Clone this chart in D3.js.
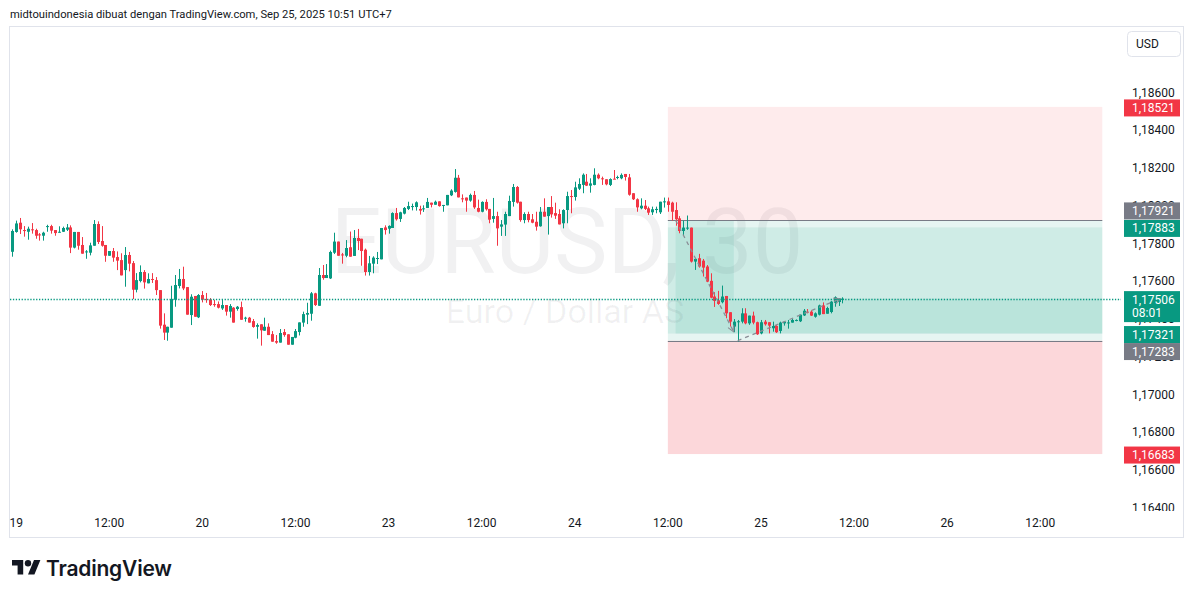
<!DOCTYPE html>
<html>
<head>
<meta charset="utf-8">
<script src="https://cdn.jsdelivr.net/npm/d3@7"></script>
<style>
  body { margin: 0; background: #fff; }
  svg { display: block; font-family: Roboto, "Noto Sans", sans-serif; }
</style>
</head>
<body>
<svg id="chart" width="1195" height="598"></svg>
<script>
// EURUSD 30m candles, first bar = Sep 18 23:30 (UTC+7), last bar = Sep 25 10:30

var opens = [
1.17754,1.17859,1.17908,1.17869,1.17860,1.17873,1.17869,1.17846,1.17839,1.17889,
1.17890,1.17869,1.17859,1.17860,1.17871,1.17883,1.17776,1.17859,1.17790,1.17753,
1.17749,1.17786,1.17901,1.17811,1.17790,1.17733,1.17758,1.17726,1.17710,1.17657,
1.17737,1.17694,1.17553,1.17599,1.17647,1.17587,1.17610,1.17604,1.17551,1.17368,
1.17326,1.17352,1.17500,1.17573,1.17610,1.17567,1.17419,1.17520,1.17407,1.17525,
1.17504,1.17502,1.17477,1.17477,1.17454,1.17472,1.17437,1.17458,1.17451,1.17461,
1.17400,1.17405,1.17387,1.17357,1.17370,1.17336,1.17357,1.17318,1.17281,1.17273,
1.17329,1.17317,1.17262,1.17299,1.17329,1.17379,1.17421,1.17426,1.17534,1.17468,
1.17631,1.17615,1.17613,1.17749,1.17808,1.17740,1.17733,1.17778,1.17732,1.17827,
1.17823,1.17765,1.17647,1.17691,1.17718,1.17714,1.17883,1.17876,1.17880,1.17959,
1.17928,1.17956,1.17981,1.17993,1.17991,1.17981,1.17981,1.17986,1.18014,1.18003,
1.18021,1.18000,1.18000,1.18053,1.18071,1.18146,1.18037,1.18041,1.18025,1.18055,
1.17986,1.17966,1.18018,1.17981,1.17928,1.17943,1.17887,1.17898,1.17943,1.18018,
1.18097,1.18019,1.17922,1.17954,1.17926,1.17913,1.17889,1.17966,1.17943,1.17991,
1.17959,1.17954,1.17905,1.17975,1.18049,1.18044,1.18088,1.18108,1.18125,1.18104,
1.18108,1.18162,1.18143,1.18138,1.18108,1.18141,1.18146,1.18143,1.18166,1.18148,
1.18064,1.18032,1.17984,1.17998,1.17984,1.17963,1.17975,1.17963,1.18018,1.18021,
1.18014,1.17975,1.17931,1.17864,1.17879,1.17882,1.17702,1.17720,1.17707,1.17676,
1.17600,1.17517,1.17497,1.17487,1.17520,1.17434,1.17358,1.17383,1.17384,1.17428,
1.17375,1.17416,1.17381,1.17322,1.17384,1.17381,1.17349,1.17361,1.17335,1.17375,
1.17377,1.17379,1.17389,1.17386,1.17417,1.17437,1.17437,1.17410,1.17421,1.17470,
1.17426,1.17435,1.17484,1.17488,1.17499
];
var highs = [
1.17873,1.17919,1.17933,1.17890,1.17887,1.17906,1.17876,1.17853,1.17860,1.17897,
1.17897,1.17869,1.17889,1.17887,1.17901,1.17894,1.17859,1.17859,1.17832,1.17763,
1.17802,1.17922,1.17915,1.17890,1.17790,1.17758,1.17774,1.17756,1.17746,1.17779,
1.17753,1.17705,1.17641,1.17682,1.17657,1.17640,1.17641,1.17620,1.17551,1.17428,
1.17357,1.17574,1.17631,1.17663,1.17675,1.17567,1.17529,1.17520,1.17530,1.17546,
1.17536,1.17509,1.17499,1.17491,1.17504,1.17472,1.17477,1.17461,1.17467,1.17490,
1.17410,1.17409,1.17398,1.17375,1.17370,1.17405,1.17375,1.17334,1.17313,1.17345,
1.17345,1.17317,1.17303,1.17345,1.17380,1.17437,1.17484,1.17541,1.17537,1.17668,
1.17684,1.17689,1.17760,1.17855,1.17808,1.17748,1.17816,1.17861,1.17869,1.17875,
1.17823,1.17771,1.17732,1.17730,1.17753,1.17880,1.17894,1.17894,1.17963,1.17986,
1.17966,1.17991,1.18019,1.18009,1.18021,1.17998,1.18000,1.18039,1.18014,1.18025,
1.18021,1.18002,1.18055,1.18085,1.18192,1.18161,1.18058,1.18041,1.18062,1.18076,
1.18030,1.18021,1.18032,1.17981,1.18039,1.17966,1.17922,1.17966,1.18051,1.18113,
1.18102,1.18019,1.17963,1.17966,1.17954,1.17966,1.17991,1.18037,1.17991,1.18049,
1.18014,1.17979,1.17979,1.18072,1.18081,1.18125,1.18143,1.18169,1.18166,1.18143,
1.18196,1.18169,1.18152,1.18138,1.18143,1.18187,1.18157,1.18169,1.18166,1.18166,
1.18064,1.18037,1.18037,1.18028,1.17993,1.17993,1.17993,1.18019,1.18041,1.18041,
1.18019,1.18016,1.17943,1.17919,1.17946,1.17882,1.17720,1.17743,1.17716,1.17684,
1.17640,1.17540,1.17547,1.17575,1.17520,1.17434,1.17398,1.17393,1.17455,1.17455,
1.17416,1.17437,1.17384,1.17393,1.17393,1.17381,1.17384,1.17367,1.17384,1.17386,
1.17393,1.17400,1.17396,1.17421,1.17451,1.17451,1.17444,1.17433,1.17474,1.17486,
1.17463,1.17493,1.17518,1.17507,1.17513
];
var lows = [
1.17728,1.17855,1.17848,1.17834,1.17818,1.17850,1.17823,1.17813,1.17813,1.17860,
1.17850,1.17839,1.17855,1.17859,1.17864,1.17747,1.17772,1.17765,1.17744,1.17717,
1.17735,1.17786,1.17795,1.17781,1.17701,1.17733,1.17701,1.17657,1.17629,1.17569,
1.17650,1.17504,1.17539,1.17592,1.17559,1.17587,1.17589,1.17525,1.17347,1.17287,
1.17283,1.17352,1.17463,1.17560,1.17551,1.17421,1.17366,1.17410,1.17403,1.17486,
1.17484,1.17467,1.17463,1.17454,1.17446,1.17416,1.17405,1.17379,1.17442,1.17394,
1.17384,1.17379,1.17352,1.17294,1.17257,1.17336,1.17313,1.17278,1.17267,1.17273,
1.17304,1.17262,1.17262,1.17296,1.17311,1.17357,1.17371,1.17389,1.17467,1.17468,
1.17606,1.17615,1.17610,1.17742,1.17733,1.17691,1.17725,1.17728,1.17732,1.17763,
1.17680,1.17628,1.17628,1.17640,1.17689,1.17714,1.17845,1.17850,1.17880,1.17919,
1.17912,1.17952,1.17975,1.17973,1.17972,1.17951,1.17965,1.17986,1.17989,1.18003,
1.17993,1.17966,1.18000,1.18049,1.18067,1.18042,1.18016,1.17966,1.18019,1.17981,
1.17963,1.17963,1.17972,1.17905,1.17908,1.17786,1.17838,1.17838,1.17943,1.17993,
1.18009,1.17913,1.17905,1.17910,1.17905,1.17866,1.17887,1.17940,1.17845,1.17935,
1.17928,1.17899,1.17878,1.17905,1.17958,1.18025,1.18081,1.18064,1.18102,1.18067,
1.18106,1.18138,1.18108,1.18106,1.18102,1.18138,1.18138,1.18138,1.18131,1.18051,
1.18028,1.17966,1.17979,1.17975,1.17949,1.17949,1.17958,1.17954,1.17988,1.17966,
1.17919,1.17892,1.17852,1.17843,1.17870,1.17697,1.17658,1.17670,1.17623,1.17593,
1.17508,1.17462,1.17473,1.17481,1.17402,1.17358,1.17328,1.17279,1.17375,1.17370,
1.17367,1.17370,1.17314,1.17317,1.17363,1.17322,1.17331,1.17324,1.17322,1.17363,
1.17347,1.17379,1.17386,1.17382,1.17414,1.17428,1.17414,1.17405,1.17417,1.17424,
1.17426,1.17428,1.17463,1.17467,1.17481
];
var closes = [
1.17864,1.17904,1.17873,1.17864,1.17876,1.17869,1.17839,1.17841,1.17855,1.17890,
1.17866,1.17853,1.17860,1.17880,1.17883,1.17776,1.17859,1.17786,1.17744,1.17756,
1.17788,1.17901,1.17806,1.17786,1.17733,1.17758,1.17723,1.17707,1.17629,1.17737,
1.17691,1.17553,1.17604,1.17647,1.17592,1.17610,1.17606,1.17551,1.17363,1.17326,
1.17357,1.17504,1.17578,1.17610,1.17560,1.17421,1.17516,1.17410,1.17525,1.17500,
1.17500,1.17472,1.17476,1.17458,1.17472,1.17437,1.17467,1.17379,1.17463,1.17394,
1.17405,1.17379,1.17356,1.17366,1.17338,1.17357,1.17313,1.17278,1.17273,1.17324,
1.17313,1.17262,1.17303,1.17334,1.17380,1.17424,1.17430,1.17534,1.17472,1.17631,
1.17615,1.17631,1.17753,1.17808,1.17733,1.17737,1.17774,1.17728,1.17827,1.17811,
1.17758,1.17647,1.17693,1.17723,1.17721,1.17880,1.17869,1.17891,1.17959,1.17926,
1.17963,1.17986,1.17996,1.17996,1.18016,1.17972,1.17984,1.18018,1.18003,1.18019,
1.17996,1.18002,1.18055,1.18078,1.18146,1.18042,1.18033,1.18025,1.18055,1.17989,
1.17966,1.18018,1.17979,1.17924,1.17943,1.17878,1.17899,1.17954,1.18023,1.18097,
1.18014,1.17922,1.17954,1.17922,1.17908,1.17887,1.17966,1.17940,1.17991,1.17952,
1.17945,1.17899,1.17975,1.18049,1.18046,1.18095,1.18113,1.18162,1.18104,1.18116,
1.18162,1.18143,1.18139,1.18111,1.18139,1.18138,1.18150,1.18161,1.18150,1.18056,
1.18032,1.17989,1.17998,1.17981,1.17961,1.17979,1.17981,1.18019,1.18021,1.18002,
1.17966,1.17926,1.17864,1.17882,1.17882,1.17702,1.17716,1.17676,1.17670,1.17596,
1.17511,1.17494,1.17478,1.17517,1.17428,1.17384,1.17384,1.17386,1.17428,1.17375,
1.17416,1.17379,1.17317,1.17381,1.17370,1.17363,1.17361,1.17328,1.17379,1.17384,
1.17380,1.17393,1.17393,1.17421,1.17442,1.17432,1.17416,1.17428,1.17470,1.17424,
1.17456,1.17490,1.17513,1.17504,1.17506
];

// time axis (bar index -> label)
var tickBars = [1, 25, 49, 73, 97, 121, 145, 169, 193, 217, 241, 265];
var tickLabels = ["19", "12:00", "20", "12:00", "23", "12:00", "24", "12:00", "25", "12:00", "26", "12:00"];
var priceTicks = [1.164, 1.166, 1.168, 1.170, 1.172, 1.174, 1.176, 1.178, 1.180, 1.182, 1.184, 1.186];

// position tools (short + long), drawn over the same bar span
var positionBars = [169, 281];
var shortPos = { entry: 1.17921, stop: 1.18521, target: 1.17321 };
var longPos = { entry: 1.17283, stop: 1.16683, target: 1.17883 };
var shortFill = { bars: [171, 186], prices: [1.17921, 1.17321] };
var longFill = { bars: [186, 281], prices: [1.17506, 1.17321] };
var shortPath = [[171, 1.17921], [186, 1.17330]];
var longPath = [[187, 1.17283], [213.5, 1.17506]];

var lastPrice = 1.17506;
var countdown = "08:01";

// Colors

var green = "#089981", red = "#f23645", grey = "#787b86", text = "#131722", border = "#e0e3eb";

// Dimensions

var plot = { left: 10, right: 1121, top: 27, bottom: 511 };

var x = d3.scaleLinear().domain([0, 281]).range([12.3, 1102.3]);
var y = d3.scaleLinear().domain([1.164, 1.186]).range([507.5, 92]);
var fmt = function (p) { return d3.format(".5f")(p).replace(".", ","); };

var svg = d3.select("#chart");

svg.append("defs").append("clipPath").attr("id", "plotClip")
  .append("rect")
  .attr("x", plot.left).attr("y", plot.top)
  .attr("width", plot.right - plot.left).attr("height", plot.bottom - plot.top);

svg.select("defs").append("clipPath").attr("id", "axisClip")
  .append("rect")
  .attr("x", plot.right).attr("y", plot.top)
  .attr("width", 1183 - plot.right).attr("height", plot.bottom - plot.top);

svg.select("defs").append("marker")
  .attr("id", "arrow")
  .attr("viewBox", "0 0 10 10")
  .attr("refX", 9).attr("refY", 5)
  .attr("markerWidth", 8).attr("markerHeight", 8)
  .attr("markerUnits", "userSpaceOnUse")
  .attr("orient", "auto")
  .append("path")
  .attr("d", "M1,1L9,5L1,9")
  .attr("fill", "none")
  .attr("stroke", "#8a8d96")
  .attr("stroke-width", 1.4);

// header

svg.append("text")
  .attr("x", 10).attr("y", 18)
  .attr("font-size", 11.2)
  .attr("fill", text)
  .text("midtouindonesia dibuat dengan TradingView.com, Sep 25, 2025 10:51 UTC+7");

// frame

svg.append("rect")
  .attr("x", 9.5).attr("y", 26.5)
  .attr("width", 1174).attr("height", 511)
  .attr("fill", "none")
  .attr("stroke", border);

var g = svg.append("g").attr("clip-path", "url(#plotClip)");

// watermark

g.append("text")
  .attr("x", 567).attr("y", 273)
  .attr("text-anchor", "middle")
  .attr("font-size", 90)
  .attr("fill", text).attr("fill-opacity", 0.06)
  .text("EURUSD, 30");

g.append("text")
  .attr("x", 565).attr("y", 323)
  .attr("text-anchor", "middle")
  .attr("font-size", 34)
  .attr("fill", text).attr("fill-opacity", 0.06)
  .text("Euro / Dollar AS");

// position zones

var px0 = x(positionBars[0]), px1 = x(positionBars[1]);

function zone(p0, p1, color, alpha) {
  g.append("rect")
    .attr("x", px0).attr("width", px1 - px0)
    .attr("y", y(Math.max(p0, p1)))
    .attr("height", Math.abs(y(p0) - y(p1)))
    .attr("fill", color).attr("fill-opacity", alpha);
}

zone(shortPos.stop, shortPos.entry, red, 0.1);
zone(shortPos.entry, shortPos.target, green, 0.1);
zone(longPos.entry, longPos.target, green, 0.1);
zone(longPos.entry, longPos.stop, red, 0.2);

[shortFill, longFill].forEach(function (f) {
  g.append("rect")
    .attr("x", x(f.bars[0])).attr("width", x(f.bars[1]) - x(f.bars[0]))
    .attr("y", y(f.prices[0]))
    .attr("height", y(f.prices[1]) - y(f.prices[0]))
    .attr("fill", green).attr("fill-opacity", 0.1);
});

[shortPos.entry, longPos.entry].forEach(function (p) {
  g.append("line")
    .attr("x1", px0).attr("x2", px1)
    .attr("y1", Math.round(y(p)) + 0.5).attr("y2", Math.round(y(p)) + 0.5)
    .attr("stroke", grey).attr("stroke-width", 1);
});

// candles

var bars = d3.range(closes.length).map(function (i) {
  return { i: i, o: opens[i], h: highs[i], l: lows[i], c: closes[i] };
});

var candle = g.selectAll("g.candle")
  .data(bars)
  .enter()
  .append("g")
  .attr("class", "candle")
  .attr("fill", function (d) { return d.c >= d.o ? green : red; })
  .attr("stroke", function (d) { return d.c >= d.o ? green : red; });

candle.append("line")
  .attr("x1", function (d) { return Math.round(x(d.i)) + 0.5; })
  .attr("x2", function (d) { return Math.round(x(d.i)) + 0.5; })
  .attr("y1", function (d) { return y(d.h); })
  .attr("y2", function (d) { return y(d.l); })
  .attr("stroke-width", 1);

candle.append("rect")
  .attr("x", function (d) { return Math.round(x(d.i)) - 1; })
  .attr("width", 3)
  .attr("y", function (d) { return y(Math.max(d.o, d.c)); })
  .attr("height", function (d) { return Math.max(1, Math.abs(y(d.o) - y(d.c))); })
  .attr("stroke", "none");

// trade paths

[shortPath, longPath].forEach(function (pts) {
  g.append("path")
    .attr("d", d3.line().x(function (d) { return x(d[0]); }).y(function (d) { return y(d[1]); })(pts))
    .attr("fill", "none")
    .attr("stroke", "#8a8d96")
    .attr("stroke-width", 1.3)
    .attr("stroke-dasharray", "4,4")
    .attr("marker-end", "url(#arrow)");
});

// last price line

g.append("line")
  .attr("x1", plot.left).attr("x2", plot.right)
  .attr("y1", Math.round(y(lastPrice)) + 0.5).attr("y2", Math.round(y(lastPrice)) + 0.5)
  .attr("stroke", green)
  .attr("stroke-width", 1.3)
  .attr("stroke-dasharray", "1.3,1.6");

// price axis

var axisG = svg.append("g").attr("clip-path", "url(#axisClip)");

axisG.selectAll("text.tick")
  .data(priceTicks)
  .enter()
  .append("text")
  .attr("class", "tick")
  .attr("x", 1132)
  .attr("y", function (d) { return y(d) + 4.5; })
  .attr("font-size", 12)
  .attr("fill", text)
  .text(fmt);

// price axis labels

var labels = [
  { price: shortPos.stop, color: red },
  { price: longPos.target, color: green },
  { price: lastPrice, color: green, sub: countdown },
  { price: shortPos.target, color: green },
  { price: longPos.stop, color: red }
];

labels.forEach(function (l) {
  l.top = y(l.price) - 7.5;
  l.h = l.sub ? 31 : 17;
});

// entry labels get pushed away from the fixed ones
labels.push({ price: shortPos.entry, color: grey, h: 17, top: labels[1].top - 17 - 0.5 });
labels.push({ price: longPos.entry, color: grey, h: 17, top: labels[3].top + 17 });

labels.forEach(function (l) {
  axisG.append("rect")
    .attr("x", 1124).attr("y", l.top)
    .attr("width", 56).attr("height", l.h)
    .attr("fill", l.color);
  axisG.append("text")
    .attr("x", 1132).attr("y", l.top + 12.5)
    .attr("font-size", 12)
    .attr("fill", "#fff")
    .text(fmt(l.price));
  if (l.sub) {
    axisG.append("text")
      .attr("x", 1132).attr("y", l.top + 26)
      .attr("font-size", 12)
      .attr("fill", "#fff")
      .text(l.sub);
  }
});

// currency box

svg.append("rect")
  .attr("x", 1127.5).attr("y", 31.5)
  .attr("width", 53).attr("height", 25)
  .attr("rx", 4)
  .attr("fill", "#fff")
  .attr("stroke", border);

svg.append("text")
  .attr("x", 1136).attr("y", 48)
  .attr("font-size", 12)
  .attr("fill", text)
  .text("USD");

// time axis

svg.selectAll("text.time")
  .data(tickBars)
  .enter()
  .append("text")
  .attr("class", "time")
  .attr("x", function (d) { return x(d); })
  .attr("y", 527)
  .attr("text-anchor", "middle")
  .attr("font-size", 12)
  .attr("fill", text)
  .text(function (d, i) { return tickLabels[i]; });

// logo

var logo = svg.append("g").attr("transform", "translate(12,556.8) scale(0.8)");
logo.append("path")
  .attr("d", "M14 22H7V11H0V4h14v18zM28 22h-8l7.5-18h8L28 22z")
  .attr("fill", text);
logo.append("circle")
  .attr("cx", 20).attr("cy", 8).attr("r", 4)
  .attr("fill", text);

svg.append("text")
  .attr("x", 46).attr("y", 576)
  .attr("font-family", "Inter, Roboto, sans-serif")
  .attr("font-size", 21)
  .attr("font-weight", 600)
  .attr("fill", text)
  .attr("letter-spacing", -0.2)
  .text("TradingView");
</script>
</body>
</html>
